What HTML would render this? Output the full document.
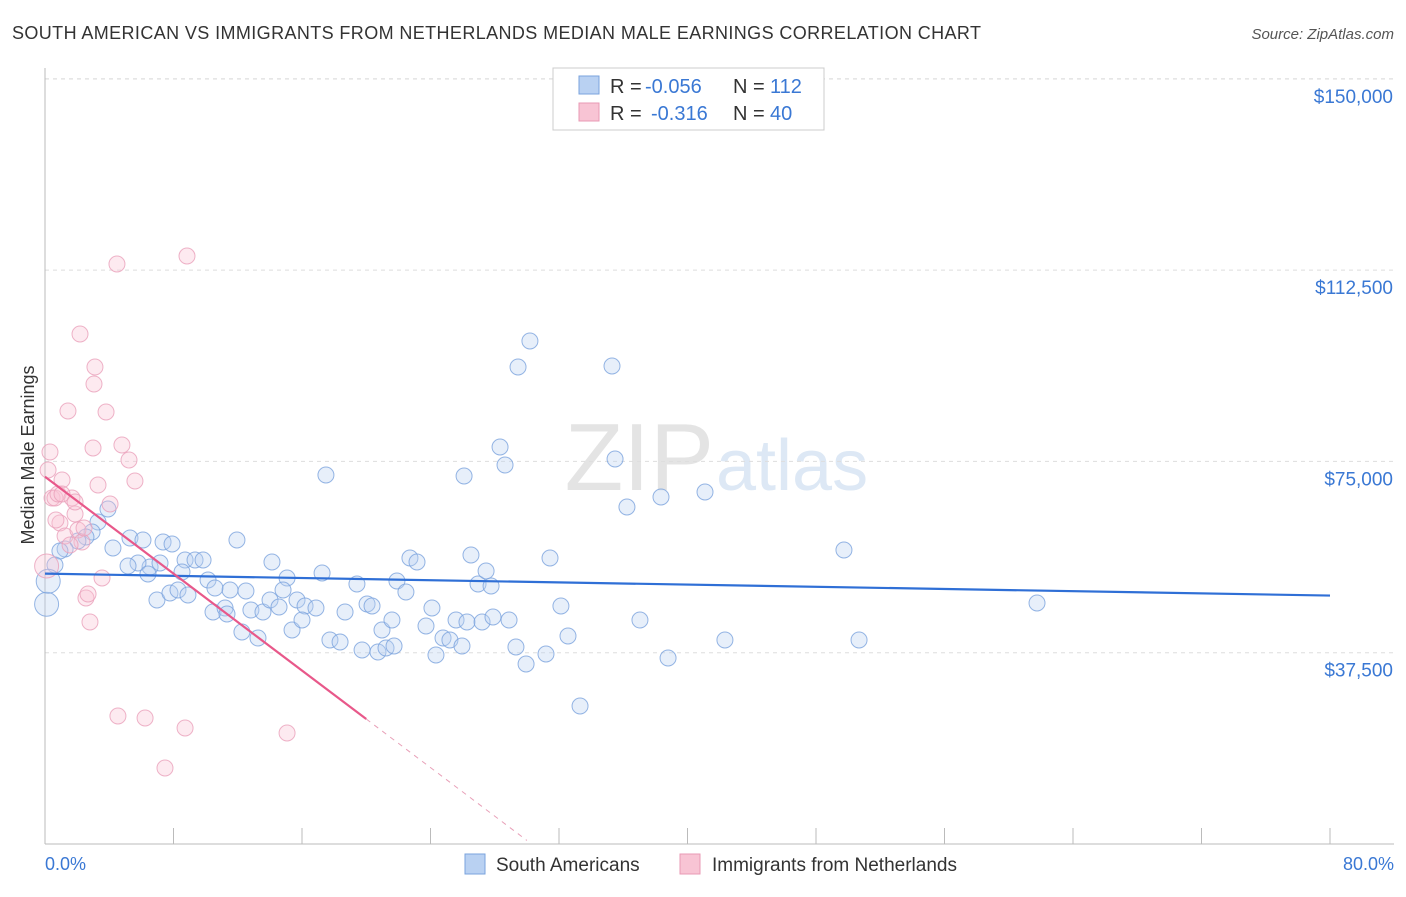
<!DOCTYPE html>
<html><head><meta charset="utf-8"><style>
body{margin:0;background:#fff;font-family:"Liberation Sans",sans-serif}
svg text{font-family:"Liberation Sans",sans-serif}
</style></head><body>
<svg id="chart" width="1406" height="892" viewBox="0 0 1406 892" xmlns="http://www.w3.org/2000/svg">
<text x="12" y="39" font-size="18" fill="#333" textLength="969">SOUTH AMERICAN VS IMMIGRANTS FROM NETHERLANDS MEDIAN MALE EARNINGS CORRELATION CHART</text>
<text x="1394" y="39" font-size="15" fill="#555" text-anchor="end" font-style="italic">Source: ZipAtlas.com</text>
<text x="714" y="490" font-size="96" fill="#e4e4e4" text-anchor="end" font-family="Liberation Serif">ZIP</text>
<text x="716" y="490" font-size="72" fill="#dde8f5">atlas</text>
<g id="grid"></g>
<g id="axes"></g>
<g id="marks"></g>
<text transform="translate(34,455) rotate(-90)" font-size="18" fill="#333" text-anchor="middle">Median Male Earnings</text>
<text x="45" y="870" font-size="18" fill="#3a78d4">0.0%</text>
<text x="1394" y="870" font-size="18" fill="#3a78d4" text-anchor="end">80.0%</text>
<g>
<rect x="553" y="68" width="271" height="62" fill="#fff" stroke="#ccc"/>
<rect x="579" y="76" width="20" height="18" fill="#b9d1f2" stroke="#7aa3dd"/>
<rect x="579" y="103" width="20" height="18" fill="#f8c4d4" stroke="#e99ab4"/>
<text x="610" y="93" font-size="20" fill="#333">R =</text>
<text x="645" y="93" font-size="20" fill="#3a78d4">-0.056</text>
<text x="733" y="93" font-size="20" fill="#333">N =</text>
<text x="770" y="93" font-size="20" fill="#3a78d4">112</text>
<text x="610" y="120" font-size="20" fill="#333">R =</text>
<text x="651" y="120" font-size="20" fill="#3a78d4">-0.316</text>
<text x="733" y="120" font-size="20" fill="#333">N =</text>
<text x="770" y="120" font-size="20" fill="#3a78d4">40</text>
</g>
<g>
<rect x="465" y="854" width="20" height="20" fill="#b9d1f2" stroke="#7aa3dd"/>
<text x="496" y="871" font-size="19" fill="#333">South Americans</text>
<rect x="680" y="854" width="20" height="20" fill="#f8c4d4" stroke="#e99ab4"/>
<text x="712" y="871" font-size="19" fill="#333">Immigrants from Netherlands</text>
</g>
</svg>
<script>
const yTicks=[37500,75000,112500,150000];
const yTickLabels=["$37,500","$75,000","$112,500","$150,000"];
const xTicks=[0,8,16,24,32,40,48,56,64,72,80];
const bluePx=[[108,509],[98,522],[92,532],[86,537],[78,541],[65,549],[60,551],[55,565],[113,548],[130,538],[143,540],[163,542],[172,544],[185,560],[195,560],[203,560],[237,540],[150,567],[160,563],[138,563],[128,566],[148,574],[182,572],[208,580],[230,590],[246,591],[215,588],[157,600],[170,593],[178,590],[188,595],[213,612],[225,608],[227,614],[242,632],[258,638],[251,610],[263,612],[270,600],[272,562],[287,578],[279,607],[283,590],[292,630],[297,600],[305,606],[302,620],[316,608],[322,573],[326,475],[330,640],[340,642],[345,612],[357,584],[362,650],[367,604],[372,606],[378,652],[382,630],[386,648],[392,620],[394,646],[397,581],[406,592],[410,558],[417,562],[426,626],[432,608],[436,655],[443,638],[450,640],[456,620],[462,646],[467,622],[464,476],[471,555],[478,584],[482,622],[486,571],[491,586],[493,617],[500,447],[505,465],[509,620],[516,647],[518,367],[526,664],[530,341],[546,654],[550,558],[561,606],[568,636],[580,706],[612,366],[615,459],[627,507],[640,620],[661,497],[668,658],[705,492],[725,640],[844,550],[859,640],[1037,603]];
const pinkPx=[[50,452],[52,498],[55,498],[58,494],[62,480],[60,523],[65,536],[68,411],[72,498],[75,514],[78,530],[80,334],[82,542],[86,598],[88,594],[90,622],[93,448],[94,384],[95,367],[98,485],[102,578],[106,412],[110,504],[117,264],[118,716],[122,445],[129,460],[135,481],[145,718],[165,768],[185,728],[187,256],[287,733],[48,470],[56,520],[70,545],[84,528],[62,494],[75,502]];
const X0=45,X1=1330,Y0=844,PERV=191.3/37500;
const toData=p=>[+((p[0]-X0)*80/(X1-X0)).toFixed(2),Math.round((Y0-p[1])/PERV)];
const blueData=bluePx.map(toData);
const pinkData=pinkPx.map(toData);
const blueBig=[[0.1,47000],[0.2,51500]];
const pinkBig=[[0.1,54500]];
const blueTrend=[[0,53000],[80,48700]];
const pinkTrend=[[0,72000],[20,24500]];
const pinkDash=[[20,24500],[30,700]];
const xs=p=>X0+p*(X1-X0)/80, ys=v=>Y0-v*PERV;
const NS="http://www.w3.org/2000/svg";
function mk(t,a,parent){const e=document.createElementNS(NS,t);for(const k in a)e.setAttribute(k,a[k]);parent.appendChild(e);return e;}
const gridG=document.getElementById('grid'),axesG=document.getElementById('axes'),marksG=document.getElementById('marks');
yTicks.forEach((v,i)=>{const l=mk('line',{x1:45,x2:1394,y1:ys(v),y2:ys(v),stroke:'#ddd','stroke-dasharray':'4,4'},gridG);


const t=mk('text',{x:1393,y:ys(v)+24,'font-size':19,fill:'#3a78d4','text-anchor':'end'},axesG);t.textContent=yTickLabels[i];

});
const topLine=mk('line',{x1:45,x2:1394,y1:79,y2:79,stroke:'#ddd','stroke-dasharray':'4,4'},gridG);


const xa=mk('line',{x1:45,x2:1394,y1:844,y2:844,stroke:'#bbb'},axesG);


const ya=mk('line',{x1:45,x2:45,y1:68,y2:844,stroke:'#bbb'},axesG);


xTicks.forEach(p=>{const t=mk('line',{x1:xs(p),x2:xs(p),y1:828,y2:844,stroke:'#bbb'},axesG);

});
function dots(data,r,fill,stroke,name){data.forEach(d=>{const c=mk('circle',{cx:xs(d[0]),cy:ys(d[1]),r:r,fill:fill,'fill-opacity':0.35,stroke:stroke,'stroke-opacity':0.8,'stroke-width':1},marksG);

});}
dots(blueData,8,'#b9d1f2','#7aa3dd','blue-point');
dots(blueBig,12,'#b9d1f2','#7aa3dd','blue-point-large');
dots(pinkData,8,'#f8c4d4','#eaa0ba','pink-point');
dots(pinkBig,12,'#f8c4d4','#eaa0ba','pink-point-large');
const bt=mk('line',{x1:xs(blueTrend[0][0]),y1:ys(blueTrend[0][1]),x2:xs(blueTrend[1][0]),y2:ys(blueTrend[1][1]),stroke:'#2f6fd6','stroke-width':2.2},marksG);


const pt=mk('line',{x1:xs(pinkTrend[0][0]),y1:ys(pinkTrend[0][1]),x2:xs(pinkTrend[1][0]),y2:ys(pinkTrend[1][1]),stroke:'#e8588a','stroke-width':2.2},marksG);


const pd=mk('line',{x1:xs(pinkDash[0][0]),y1:ys(pinkDash[0][1]),x2:xs(pinkDash[1][0]),y2:ys(pinkDash[1][1]),stroke:'#e8a0b8','stroke-width':1,'stroke-dasharray':'5,5'},marksG);


</script>
</body></html>
